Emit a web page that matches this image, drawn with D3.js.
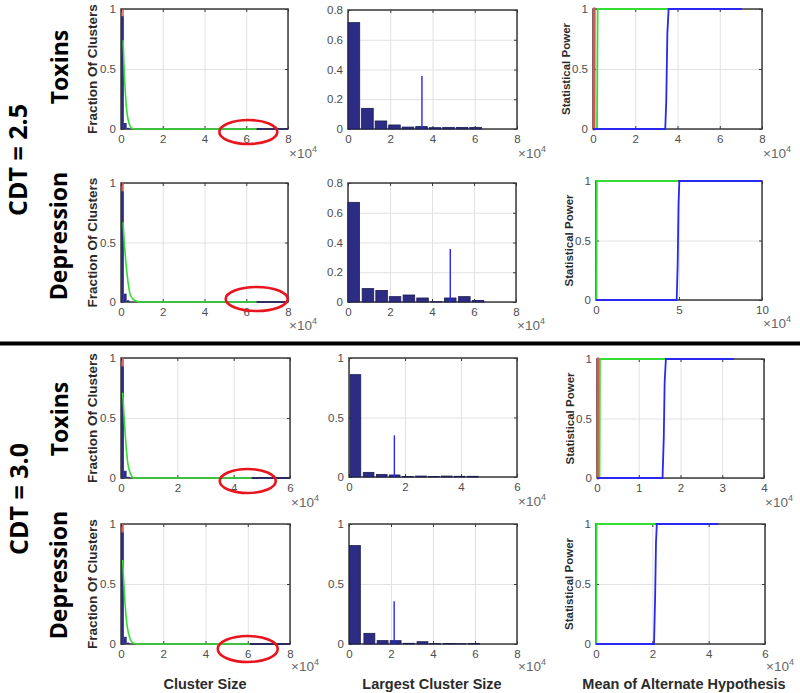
<!DOCTYPE html>
<html><head><meta charset="utf-8">
<script src="https://cdn.jsdelivr.net/npm/d3@7"></script>
<style>body{margin:0;background:#fff}</style>
</head><body>
<svg id="c" width="800" height="693"></svg>
<script>
// ================= DATA =================
const rowNames = ["Toxins", "Depression", "Toxins", "Depression"];
const cdtLabels = ["CDT = 2.5", "CDT = 3.0"];
const colTitles = ["Cluster Size", "Largest Cluster Size", "Mean of Alternate Hypothesis"];
const yLabels = ["Fraction Of Clusters", "", "Statistical Power"];

// x domains / ticks (units of 10^4)
const sizeXTicks = [[0,2,4,6,8],[0,2,4,6,8],[0,2,4,6],[0,2,4,6,8]];
const largestXTicks = [[0,2,4,6,8],[0,2,4,6,8],[0,2,4,6],[0,2,4,6,8]];
const powerXTicks = [[0,2,4,6,8],[0,5,10],[0,1,2,3,4],[0,2,4,6]];
const sizeYTicks = [0, 0.5, 1];
const largestYTicks = [[0,0.2,0.4,0.6,0.8],[0,0.2,0.4,0.6,0.8],[0,0.5,1],[0,0.5,1]];
const powerYTicks = [0, 0.5, 1];

// Column 1: cluster size distribution, bins [x0, x1, fraction]
const sizeBars = [
  [[0,0.13,0.94],[0.13,0.27,0.05],[0.27,0.4,0.01]],
  [[0,0.13,0.93],[0.13,0.27,0.07],[0.27,0.4,0.015]],
  [[0,0.1,0.93],[0.1,0.2,0.06],[0.2,0.3,0.01]],
  [[0,0.13,0.93],[0.13,0.27,0.06],[0.27,0.4,0.012]]
];
const sizeRedBars = [[0.06,0.13,1],[0.05,0.13,1],[0.04,0.1,1],[0.05,0.13,1]];
const sizeFit = [
  [[0.1,0.74],[0.13,0.6],[0.16,0.46],[0.2,0.33],[0.25,0.2],[0.3,0.12],[0.38,0.05],[0.45,0.02],[0.55,0.005],[0.7,0],[6.5,0]],
  [[0.1,0.67],[0.15,0.52],[0.2,0.4],[0.27,0.27],[0.35,0.15],[0.43,0.07],[0.55,0.03],[0.7,0.01],[0.9,0],[6.5,0]],
  [[0.06,0.71],[0.1,0.55],[0.14,0.4],[0.19,0.24],[0.24,0.125],[0.3,0.06],[0.37,0.02],[0.44,0],[4.64,0]],
  [[0.08,0.7],[0.12,0.55],[0.17,0.4],[0.23,0.25],[0.3,0.14],[0.4,0.06],[0.5,0.02],[0.62,0.005],[0.74,0],[6.1,0]]
];
const sizeTail = [[6.5,8],[6.5,8],[4.64,6],[6.1,8]];
const sizeCircleX = [6.1, 6.5, 4.5, 6.0];

// Column 2: largest cluster size histogram
const largestCenters = [
  [0.28,0.92,1.56,2.2,2.84,3.48,4.12,4.76,5.4,6.04],
  [0.27,0.95,1.6,2.24,2.9,3.55,4.2,4.87,5.54,6.19],
  [0.23,0.7,1.17,1.63,2.1,2.57,3.03,3.49,3.95,4.42],
  [0.28,0.97,1.6,2.22,2.85,3.5,4.1,4.75,5.3,5.95]
];
const largestValues = [
  [0.715,0.139,0.054,0.027,0.013,0.016,0.009,0.011,0.011,0.011],
  [0.67,0.09,0.078,0.036,0.047,0.027,0.002,0.027,0.036,0.011],
  [0.86,0.039,0.022,0.017,0.005,0.008,0.005,0.008,0.006,0.006],
  [0.82,0.089,0.028,0.028,0.006,0.019,0.003,0.005,0.002,0.004]
];
const largestBinWidth = [0.55, 0.55, 0.38, 0.52];
const largestSpike = [[3.5,0.356],[4.87,0.357],[1.62,0.35],[2.15,0.356]];

// Column 3: statistical power curves
const powerRed = [
  [[0,0],[0.05,0],[0.06,1],[0.12,1]],
  [],
  [[0,0],[0.02,0],[0.03,1],[0.05,1]],
  []
];
const powerGreen = [
  [[0,0],[0.19,0],[0.22,1],[3.55,1]],
  [[0,0],[0.03,0],[0.05,1],[4.95,1]],
  [[0,0],[0.06,0],[0.07,1],[1.63,1]],
  [[0,0],[0.01,0],[0.02,1],[2.1,1]]
];
const powerBlue = [
  [[0,0],[3.42,0],[3.47,0.25],[3.52,0.8],[3.58,1],[7.05,1]],
  [[0,0],[4.86,0],[4.92,0.3],[4.97,0.8],[5.02,1],[10,1]],
  [[0,0],[1.57,0],[1.6,0.35],[1.62,0.8],[1.65,1],[3.28,1]],
  [[0,0],[2.06,0],[2.1,0.4],[2.13,0.85],[2.16,1],[4.34,1]]
];

// ================= LAYOUT =================
const layout = [
  [[121,288,9,129],[348,517,10,129],[593,762,9,129]],
  [[121,288,183,302],[348,516,183,302],[596,762,181,300]],
  [[121,290,358,478],[349,517,358,477],[597,764,359,478]],
  [[121,290,524,644],[349,517,524,644],[596,765,524,644]]
];
const expDy = [29, 28, 29, 27];
const circleDy = [3, -3, 3, 5], circleRx = [29, 31, 28, 30], circleRy = [12, 12, 12, 13];

const NAVY = "#2c2c84", GREEN = "#33dd33", BLUE = "#2828f0", RED = "#e05050";
const TICKFONT = "'Liberation Sans', Arial, sans-serif";

const svg = d3.select("#c");

function panel(rect, xTicks, yTicks, eDy) {
  const [x0, x1, y0, y1] = rect;
  const x = d3.scaleLinear().domain([xTicks[0], xTicks[xTicks.length-1]]).range([x0, x1]);
  const y = d3.scaleLinear().domain([yTicks[0], yTicks[yTicks.length-1]]).range([y1, y0]);
  const g = svg.append("g");
  // grid
  const gx = g.append("g").attr("transform", `translate(0,${y1})`)
    .call(d3.axisBottom(x).tickValues(xTicks).tickSize(-(y1-y0)).tickFormat(""));
  const gy = g.append("g").attr("transform", `translate(${x0},0)`)
    .call(d3.axisLeft(y).tickValues(yTicks).tickSize(-(x1-x0)).tickFormat(""));
  [gx, gy].forEach(a => { a.select(".domain").remove(); a.selectAll("line").attr("stroke", "#e2e2e2").attr("stroke-width", 1); });
  // inner ticks
  const tk = [
    g.append("g").attr("transform", `translate(0,${y1})`).call(d3.axisBottom(x).tickValues(xTicks).tickSize(-3).tickFormat("")),
    g.append("g").attr("transform", `translate(0,${y0})`).call(d3.axisTop(x).tickValues(xTicks).tickSize(-3).tickFormat("")),
    g.append("g").attr("transform", `translate(${x0},0)`).call(d3.axisLeft(y).tickValues(yTicks).tickSize(-3).tickFormat("")),
    g.append("g").attr("transform", `translate(${x1},0)`).call(d3.axisRight(y).tickValues(yTicks).tickSize(-3).tickFormat(""))
  ];
  tk.forEach(a => { a.select(".domain").remove(); a.selectAll("line").attr("stroke", "#3a3a3a"); });
  // box
  g.append("rect").attr("x", x0).attr("y", y0).attr("width", x1-x0).attr("height", y1-y0)
    .attr("fill", "none").attr("stroke", "#3a3a3a").attr("stroke-width", 1.5);
  // labels
  const lx = g.append("g").attr("transform", `translate(0,${y1})`)
    .call(d3.axisBottom(x).tickValues(xTicks).tickSize(0).tickPadding(6).tickFormat(d => String(d)));
  const ly = g.append("g").attr("transform", `translate(${x0},0)`)
    .call(d3.axisLeft(y).tickValues(yTicks).tickSize(0).tickPadding(5).tickFormat(d => String(d)));
  [lx, ly].forEach(a => {
    a.select(".domain").remove();
    a.attr("font-family", null).attr("font-size", null);
    a.selectAll("text").attr("font-family", TICKFONT).attr("font-size", 11.5).attr("fill", "#4d4d4d");
  });
  // x10^4
  const ex = g.append("text").attr("x", x1 + 1).attr("y", y1 + eDy)
    .attr("font-family", TICKFONT).attr("font-size", 13.5).attr("fill", "#666");
  ex.append("tspan").text("×10");
  ex.append("tspan").attr("dy", -6).attr("font-size", 9).text("4");
  const data = g.append("g");
  return {x, y, g: data, rect};
}

for (let r = 0; r < 4; r++) {
  // ---------- Column 1 ----------
  {
    const p = panel(layout[r][0], sizeXTicks[r], sizeYTicks, expDy[r]);
    const {x, y, g} = p;
    const rb = sizeRedBars[r];
    g.append("rect").attr("x", x(rb[0])).attr("width", x(rb[1]) - x(rb[0]))
      .attr("y", y(rb[2])).attr("height", y(0) - y(rb[2])).attr("fill", RED);
    g.selectAll(".nb").data(sizeBars[r]).join("rect")
      .attr("x", d => x(d[0])).attr("width", d => x(d[1]) - x(d[0]))
      .attr("y", d => y(d[2])).attr("height", d => y(0) - y(d[2])).attr("fill", NAVY);
    g.append("path").attr("d", d3.line().x(d => x(d[0])).y(d => y(d[1])).curve(d3.curveMonotoneX)(sizeFit[r]))
      .attr("fill", "none").attr("stroke", GREEN).attr("stroke-width", 1.6);
    const t = sizeTail[r];
    g.append("line").attr("x1", x(t[0])).attr("x2", x(t[1])).attr("y1", y(0)).attr("y2", y(0))
      .attr("stroke", "#2a2a60").attr("stroke-width", 1.8);
    g.append("ellipse").attr("cx", x(sizeCircleX[r])).attr("cy", y(0) + circleDy[r])
      .attr("rx", circleRx[r]).attr("ry", circleRy[r])
      .attr("fill", "none").attr("stroke", "#e8141e").attr("stroke-width", 2.6);
    const [x0, x1, y0, y1] = layout[r][0];
    svg.append("text").attr("transform", `translate(${x0 - 24},${(y0 + y1) / 2}) rotate(-90)`)
      .attr("text-anchor", "middle").attr("font-family", TICKFONT).attr("font-weight", "bold")
      .attr("font-size", 13.5).attr("fill", "#2b2b2b").text(yLabels[0]);
  }
  // ---------- Column 2 ----------
  {
    const p = panel(layout[r][1], largestXTicks[r], largestYTicks[r], expDy[r]);
    const {x, y, g} = p;
    const w = largestBinWidth[r];
    g.selectAll(".lb").data(largestCenters[r].map((c, i) => [c, largestValues[r][i]])).join("rect")
      .attr("x", d => x(d[0] - w / 2)).attr("width", d => x(d[0] + w / 2) - x(d[0] - w / 2))
      .attr("y", d => y(d[1])).attr("height", d => y(0) - y(d[1]))
      .attr("fill", NAVY).attr("stroke", "#1c1c50").attr("stroke-width", 0.8);
    const s = largestSpike[r];
    g.append("line").attr("x1", x(s[0])).attr("x2", x(s[0])).attr("y1", y(0)).attr("y2", y(s[1]))
      .attr("stroke", BLUE).attr("stroke-width", 1.4);
  }
  // ---------- Column 3 ----------
  {
    const p = panel(layout[r][2], powerXTicks[r], powerYTicks, expDy[r]);
    const {x, y, g} = p;
    const ln = d3.line().x(d => x(d[0])).y(d => y(d[1]));
    if (powerRed[r].length) g.append("path").attr("d", ln(powerRed[r])).attr("fill", "none")
      .attr("stroke", RED).attr("stroke-width", 2.8);
    g.append("path").attr("d", ln(powerGreen[r])).attr("fill", "none").attr("stroke", GREEN).attr("stroke-width", 1.8);
    g.append("path").attr("d", ln(powerBlue[r])).attr("fill", "none").attr("stroke", BLUE).attr("stroke-width", 1.8);
    const [x0, x1, y0, y1] = layout[r][2];
    svg.append("text").attr("transform", `translate(${x0 - 23},${(y0 + y1) / 2}) rotate(-90)`)
      .attr("text-anchor", "middle").attr("font-family", TICKFONT).attr("font-weight", "bold")
      .attr("font-size", 11.5).attr("fill", "#2b2b2b").text(yLabels[2]);
  }
}

// row labels
const rowLabelPos = [[68, 67], [67, 236], [68, 419], [67, 575]];
rowNames.forEach((n, i) => {
  svg.append("text").attr("transform", `translate(${rowLabelPos[i][0]},${rowLabelPos[i][1]}) rotate(-90)`)
    .attr("text-anchor", "middle").attr("font-family", "'Open Sans', sans-serif").attr("font-weight", "bold")
    .attr("font-size", 23).attr("fill", "#000").text(n);
});
const cdtPos = [[27, 160], [28, 499]];
cdtLabels.forEach((n, i) => {
  svg.append("text").attr("transform", `translate(${cdtPos[i][0]},${cdtPos[i][1]}) rotate(-90)`)
    .attr("text-anchor", "middle").attr("font-family", "'Open Sans', sans-serif").attr("font-weight", "bold")
    .attr("font-size", 25).attr("fill", "#000").text(n);
});

// separator
svg.append("line").attr("x1", 0).attr("x2", 800).attr("y1", 343.5).attr("y2", 343.5)
  .attr("stroke", "#000").attr("stroke-width", 4);

// column titles
const titleX = [205, 432, 684];
colTitles.forEach((t, i) => {
  svg.append("text").attr("x", titleX[i]).attr("y", 689).attr("text-anchor", "middle")
    .attr("font-family", TICKFONT).attr("font-weight", "bold").attr("font-size", 14.5)
    .attr("fill", "#2b2b2b").text(t);
});
</script>
</body></html>
